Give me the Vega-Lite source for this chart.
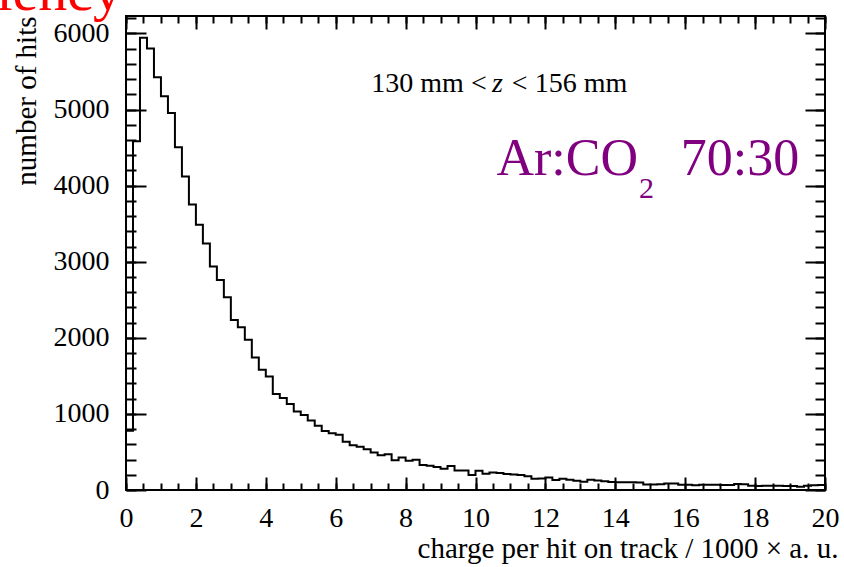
{
  "$schema": "https://vega.github.io/schema/vega-lite/v6.json",
  "width": 699,
  "height": 474,
  "autosize": {"type": "none"},
  "padding": {"left": 126, "top": 16, "right": 19, "bottom": 77},
  "background": "white",
  "config": {
    "view": {"stroke": "#000", "strokeWidth": 2},
    "axis": {
      "grid": false,
      "domain": false,
      "labelFont": "Liberation Serif",
      "titleFont": "Liberation Serif",
      "labelColor": "#000",
      "titleColor": "#000",
      "tickColor": "#000",
      "tickWidth": 2,
      "titleFontWeight": "normal",
      "labelFlush": false,
      "labelOverlap": false
    },
    "text": {"font": "Liberation Serif"}
  },
  "datasets": {
    "hist": [
      {"q": 0.0, "n": 780}, {"q": 0.2, "n": 4583}, {"q": 0.4, "n": 5943}, {"q": 0.6, "n": 5803}, {"q": 0.8, "n": 5425},
      {"q": 1.0, "n": 5175}, {"q": 1.2, "n": 4956}, {"q": 1.4, "n": 4504}, {"q": 1.6, "n": 4122}, {"q": 1.8, "n": 3754},
      {"q": 2.0, "n": 3487}, {"q": 2.2, "n": 3241}, {"q": 2.4, "n": 2938}, {"q": 2.6, "n": 2759}, {"q": 2.8, "n": 2535},
      {"q": 3.0, "n": 2235}, {"q": 3.2, "n": 2140}, {"q": 3.4, "n": 1974}, {"q": 3.6, "n": 1743}, {"q": 3.8, "n": 1581},
      {"q": 4.0, "n": 1491}, {"q": 4.2, "n": 1261}, {"q": 4.4, "n": 1208}, {"q": 4.6, "n": 1130}, {"q": 4.8, "n": 1031},
      {"q": 5.0, "n": 987}, {"q": 5.2, "n": 912}, {"q": 5.4, "n": 846}, {"q": 5.6, "n": 774}, {"q": 5.8, "n": 746},
      {"q": 6.0, "n": 725}, {"q": 6.2, "n": 634}, {"q": 6.4, "n": 588}, {"q": 6.6, "n": 570}, {"q": 6.8, "n": 537},
      {"q": 7.0, "n": 494}, {"q": 7.2, "n": 456}, {"q": 7.4, "n": 469}, {"q": 7.6, "n": 392}, {"q": 7.8, "n": 427},
      {"q": 8.0, "n": 386}, {"q": 8.2, "n": 397}, {"q": 8.4, "n": 327}, {"q": 8.6, "n": 318}, {"q": 8.8, "n": 303},
      {"q": 9.0, "n": 278}, {"q": 9.2, "n": 316}, {"q": 9.4, "n": 256}, {"q": 9.6, "n": 256}, {"q": 9.8, "n": 198},
      {"q": 10.0, "n": 252}, {"q": 10.2, "n": 213}, {"q": 10.4, "n": 230}, {"q": 10.6, "n": 222}, {"q": 10.8, "n": 210},
      {"q": 11.0, "n": 204}, {"q": 11.2, "n": 197}, {"q": 11.4, "n": 180}, {"q": 11.6, "n": 149}, {"q": 11.8, "n": 151},
      {"q": 12.0, "n": 163}, {"q": 12.2, "n": 132}, {"q": 12.4, "n": 149}, {"q": 12.6, "n": 136}, {"q": 12.8, "n": 123},
      {"q": 13.0, "n": 108}, {"q": 13.2, "n": 134}, {"q": 13.4, "n": 125}, {"q": 13.6, "n": 116}, {"q": 13.8, "n": 105},
      {"q": 14.0, "n": 101}, {"q": 14.2, "n": 101}, {"q": 14.4, "n": 101}, {"q": 14.6, "n": 97}, {"q": 14.8, "n": 72},
      {"q": 15.0, "n": 73}, {"q": 15.2, "n": 75}, {"q": 15.4, "n": 85}, {"q": 15.6, "n": 84}, {"q": 15.8, "n": 70},
      {"q": 16.0, "n": 70}, {"q": 16.2, "n": 64}, {"q": 16.4, "n": 68}, {"q": 16.6, "n": 70}, {"q": 16.8, "n": 68},
      {"q": 17.0, "n": 66}, {"q": 17.2, "n": 66}, {"q": 17.4, "n": 80}, {"q": 17.6, "n": 77}, {"q": 17.8, "n": 55},
      {"q": 18.0, "n": 51}, {"q": 18.2, "n": 57}, {"q": 18.4, "n": 55}, {"q": 18.6, "n": 57}, {"q": 18.8, "n": 53},
      {"q": 19.0, "n": 53}, {"q": 19.2, "n": 42}, {"q": 19.4, "n": 57}, {"q": 19.6, "n": 61}, {"q": 19.8, "n": 66},
      {"q": 20.0, "n": 66}
    ]
  },
  "data": {"name": "hist"},
  "resolve": {"axis": {"x": "independent", "y": "independent"}},
  "layer": [
    {
      "mark": {"type": "line", "interpolate": "step-after", "color": "#000", "strokeWidth": 2},
      "encoding": {
        "x": {"field": "q", "type": "quantitative", "scale": {"domain": [0, 20], "nice": false, "zero": false},
          "axis": {"orient": "bottom", "values": [0, 2, 4, 6, 8, 10, 12, 14, 16, 18, 20], "ticks": false, "tickSize": 0,
            "labelPadding": 14, "labelFontSize": 28, "labelFont": "Liberation Serif", "format": "d",
            "title": "charge per hit on track / 1000 × a. u.", "titleFontSize": 29, "titleFont": "Liberation Serif",
            "titleAnchor": "end", "titleAlign": "right", "titleBaseline": "alphabetic", "titleX": 712, "titleY": 67}},
        "y": {"field": "n", "type": "quantitative", "scale": {"domain": [0, 6230], "nice": false},
          "axis": {"orient": "left", "values": [0, 1000, 2000, 3000, 4000, 5000, 6000], "ticks": false, "tickSize": 0,
            "labelPadding": 17, "labelFontSize": 28, "labelFont": "Liberation Serif", "format": "d",
            "title": "number of hits", "titleFontSize": 29, "titleFont": "Liberation Serif", "titleAnchor": "end", "titlePadding": 12}}
      }
    },
    {
      "data": {"values": [{"label": "Efficiency"}]},
      "mark": {"type": "text", "align": "right", "baseline": "alphabetic", "fontSize": 58, "color": "#ff0000"},
      "encoding": {
        "text": {"field": "label"},
        "x": {"datum": -0.114, "type": "quantitative", "scale": {"domain": [0, 20], "nice": false, "zero": false},
          "axis": {"orient": "bottom", "values": [0, 2, 4, 6, 8, 10, 12, 14, 16, 18, 20], "labels": false, "title": null, "tickSize": 13, "offset": -13}},
        "y": {"datum": 6307, "type": "quantitative", "scale": {"domain": [0, 6230], "nice": false},
          "axis": {"orient": "left", "values": [0, 1000, 2000, 3000, 4000, 5000, 6000], "labels": false, "title": null, "tickSize": 20, "offset": -20}}
      }
    },
    {
      "data": {"values": [{"label": "130 mm <"}]},
      "mark": {"type": "text", "align": "right", "baseline": "alphabetic", "fontSize": 28, "color": "#000"},
      "encoding": {
        "text": {"field": "label"},
        "x": {"datum": 10.32, "type": "quantitative", "scale": {"domain": [0, 20], "nice": false, "zero": false},
          "axis": {"orient": "bottom", "values": [0, 0.5, 1, 1.5, 2, 2.5, 3, 3.5, 4, 4.5, 5, 5.5, 6, 6.5, 7, 7.5, 8, 8.5, 9, 9.5, 10, 10.5, 11, 11.5, 12, 12.5, 13, 13.5, 14, 14.5, 15, 15.5, 16, 16.5, 17, 17.5, 18, 18.5, 19, 19.5, 20], "labels": false, "title": null, "tickSize": 7, "offset": -7}},
        "y": {"datum": 5226, "type": "quantitative", "scale": {"domain": [0, 6230], "nice": false},
          "axis": {"orient": "left", "values": [0, 200, 400, 600, 800, 1000, 1200, 1400, 1600, 1800, 2000, 2200, 2400, 2600, 2800, 3000, 3200, 3400, 3600, 3800, 4000, 4200, 4400, 4600, 4800, 5000, 5200, 5400, 5600, 5800, 6000, 6200], "labels": false, "title": null, "tickSize": 10, "offset": -10}}
      }
    },
    {
      "data": {"values": [{"label": "z"}]},
      "mark": {"type": "text", "align": "center", "baseline": "alphabetic", "fontSize": 28, "fontStyle": "italic", "color": "#000"},
      "encoding": {
        "text": {"field": "label"},
        "x": {"datum": 10.63, "type": "quantitative", "scale": {"domain": [0, 20], "nice": false, "zero": false},
          "axis": {"orient": "top", "values": [0, 2, 4, 6, 8, 10, 12, 14, 16, 18, 20], "labels": false, "title": null, "tickSize": 13, "offset": -13}},
        "y": {"datum": 5226, "type": "quantitative", "scale": {"domain": [0, 6230], "nice": false},
          "axis": {"orient": "right", "values": [0, 1000, 2000, 3000, 4000, 5000, 6000], "labels": false, "title": null, "tickSize": 20, "offset": -20}}
      }
    },
    {
      "data": {"values": [{"label": "< 156 mm"}]},
      "mark": {"type": "text", "align": "left", "baseline": "alphabetic", "fontSize": 28, "color": "#000"},
      "encoding": {
        "text": {"field": "label"},
        "x": {"datum": 11.04, "type": "quantitative", "scale": {"domain": [0, 20], "nice": false, "zero": false},
          "axis": {"orient": "top", "values": [0, 0.5, 1, 1.5, 2, 2.5, 3, 3.5, 4, 4.5, 5, 5.5, 6, 6.5, 7, 7.5, 8, 8.5, 9, 9.5, 10, 10.5, 11, 11.5, 12, 12.5, 13, 13.5, 14, 14.5, 15, 15.5, 16, 16.5, 17, 17.5, 18, 18.5, 19, 19.5, 20], "labels": false, "title": null, "tickSize": 7, "offset": -7}},
        "y": {"datum": 5226, "type": "quantitative", "scale": {"domain": [0, 6230], "nice": false},
          "axis": {"orient": "right", "values": [0, 200, 400, 600, 800, 1000, 1200, 1400, 1600, 1800, 2000, 2200, 2400, 2600, 2800, 3000, 3200, 3400, 3600, 3800, 4000, 4200, 4400, 4600, 4800, 5000, 5200, 5400, 5600, 5800, 6000, 6200], "labels": false, "title": null, "tickSize": 10, "offset": -10}}
      }
    },
    {
      "data": {"values": [{"label": "Ar:CO"}]},
      "mark": {"type": "text", "align": "right", "baseline": "alphabetic", "fontSize": 52, "color": "#800080"},
      "encoding": {
        "text": {"field": "label"},
        "x": {"datum": 14.65, "type": "quantitative", "scale": {"domain": [0, 20], "nice": false, "zero": false}, "axis": null},
        "y": {"datum": 4139, "type": "quantitative", "scale": {"domain": [0, 6230], "nice": false}, "axis": null}
      }
    },
    {
      "data": {"values": [{"label": "2"}]},
      "mark": {"type": "text", "align": "left", "baseline": "alphabetic", "fontSize": 30, "color": "#800080"},
      "encoding": {
        "text": {"field": "label"},
        "x": {"datum": 14.68, "type": "quantitative", "scale": {"domain": [0, 20], "nice": false, "zero": false}, "axis": null},
        "y": {"datum": 3833, "type": "quantitative", "scale": {"domain": [0, 6230], "nice": false}, "axis": null}
      }
    },
    {
      "data": {"values": [{"label": "70:30"}]},
      "mark": {"type": "text", "align": "right", "baseline": "alphabetic", "fontSize": 52, "color": "#800080"},
      "encoding": {
        "text": {"field": "label"},
        "x": {"datum": 19.26, "type": "quantitative", "scale": {"domain": [0, 20], "nice": false, "zero": false}, "axis": null},
        "y": {"datum": 4139, "type": "quantitative", "scale": {"domain": [0, 6230], "nice": false}, "axis": null}
      }
    }
  ]
}
